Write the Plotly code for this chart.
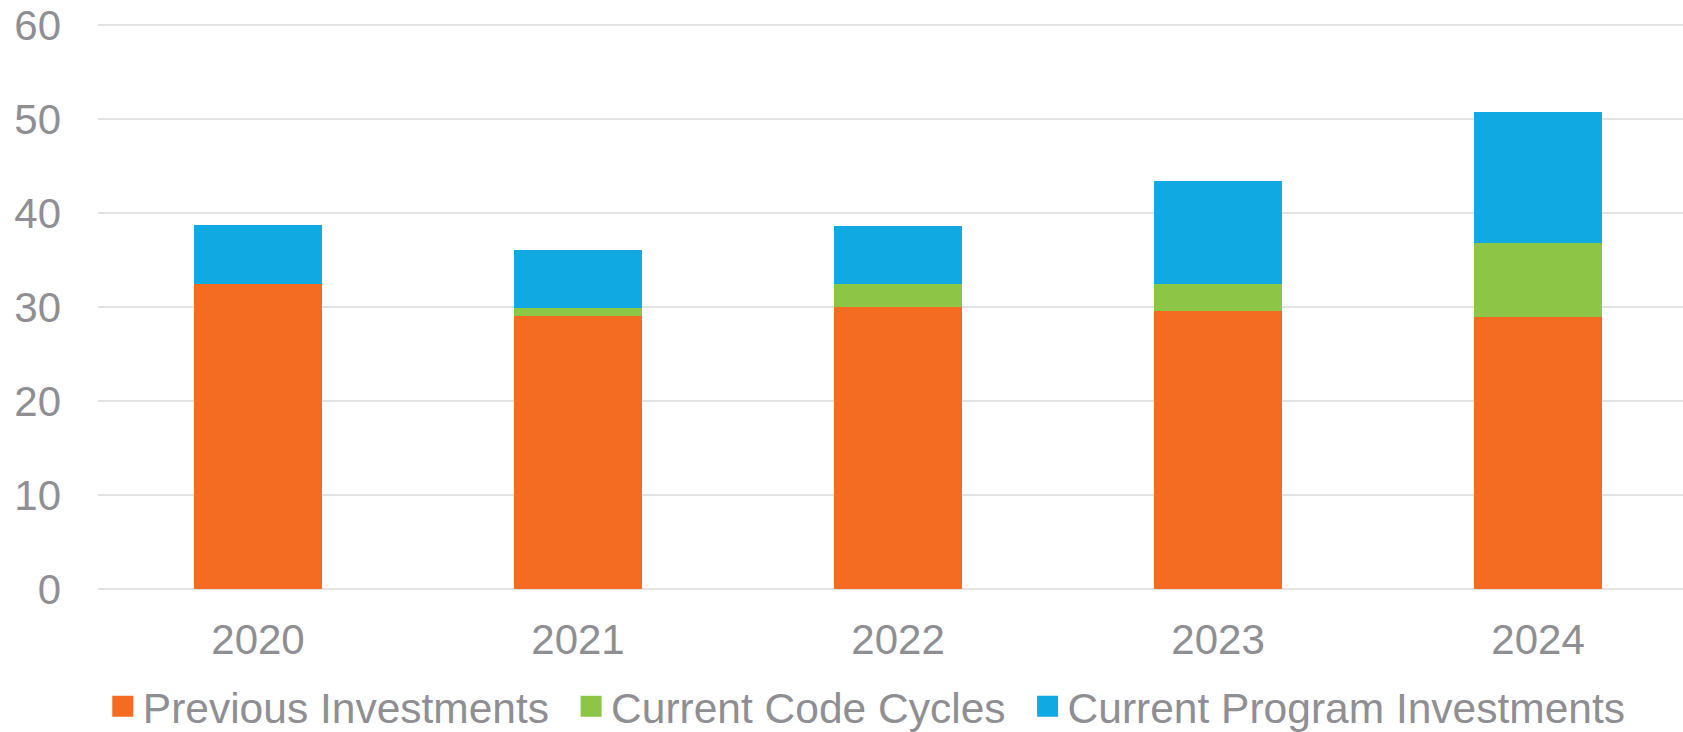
import plotly.graph_objects as go

years = ["2020", "2021", "2022", "2023", "2024"]
previous_investments = [32.5, 29.1, 30.0, 29.6, 29.0]
current_code_cycles = [0.0, 0.85, 2.45, 2.9, 7.8]
current_program_investments = [6.2, 6.1, 6.15, 10.95, 14.0]

series_names = ["Previous Investments", "Current Code Cycles", "Current Program Investments"]
series_colors = ["#F36C21", "#8DC647", "#10A9E1"]
series_values = [previous_investments, current_code_cycles, current_program_investments]

FONT = "Liberation Sans, Arial, sans-serif"
GRAY = "#8E8E93"
GRID = "#E3E3E3"

fig = go.Figure()
for name, color, vals in zip(series_names, series_colors, series_values):
    fig.add_trace(go.Bar(
        x=years, y=vals, name=name, marker=dict(color=color, line=dict(width=0)),
        width=0.4, showlegend=False,
    ))
# legend entries with larger square swatches
for name, color in zip(series_names, series_colors):
    fig.add_trace(go.Scatter(
        x=[None], y=[None], mode="markers", name=name + "\u2009\u2009",
        marker=dict(symbol="square", size=22, color=color,
                    line=dict(color=color, width=6)),
    ))

fig.update_layout(
    barmode="stack",
    width=1683, height=732,
    margin=dict(l=98, r=0, t=23, b=143, autoexpand=False),
    paper_bgcolor="white", plot_bgcolor="white",
    font=dict(family=FONT, color=GRAY, size=42),
    showlegend=True,
    hovermode=False,
    legend=dict(
        orientation="h", x=0.4904, xanchor="center",
        y=-0.208, yanchor="middle",
        font=dict(family=FONT, size=42.5, color=GRAY),
        itemwidth=30, tracegroupgap=0, itemsizing="trace", traceorder="normal",
    ),
    xaxis=dict(
        type="category", range=[-0.5, 4.453], showgrid=False, zeroline=False,
        showline=False, ticks="", tickfont=dict(family=FONT, size=42, color=GRAY),
        ticklabelstandoff=22, automargin=False,
    ),
    yaxis=dict(
        range=[0, 60.25], dtick=10, showgrid=True, gridcolor=GRID, gridwidth=2,
        zeroline=True, zerolinecolor=GRID, zerolinewidth=2, showline=False, ticks="",
        tickfont=dict(family=FONT, size=42, color=GRAY), ticklabelstandoff=36,
        automargin=False,
    ),
)

fig.write_html(
    "out.html",
    config={"displayModeBar": False},
    post_script="document.body.style.margin='0';document.body.style.overflow='hidden';",
)
